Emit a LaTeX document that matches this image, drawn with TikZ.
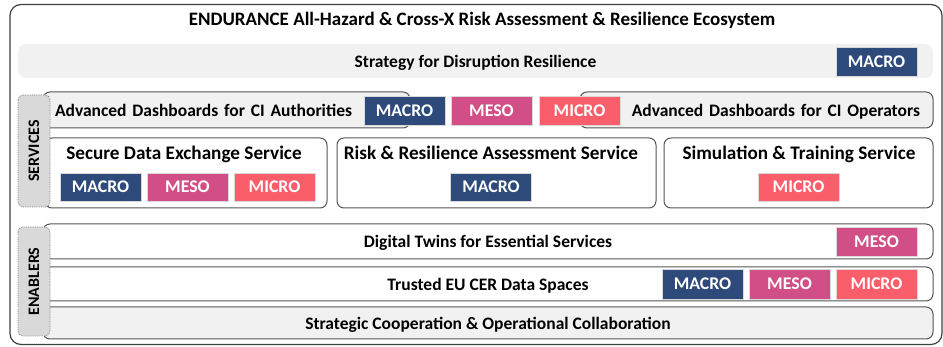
\documentclass[tikz,border=0pt]{standalone}
\usepackage{fontspec}
\setmainfont{Carlito}
\usetikzlibrary{positioning,calc}
\definecolor{mac}{HTML}{2E4A7B}
\definecolor{mes}{HTML}{D14F86}
\definecolor{mic}{HTML}{FA5E6B}
\definecolor{pale}{HTML}{F1F1F1}
\definecolor{tabc}{HTML}{D9D9D9}
\definecolor{edge}{HTML}{555555}
\tikzset{x=1pt,y=-1pt,
 every node/.style={font=\bfseries\fontsize{17.5}{20}\selectfont,inner sep=0pt,text depth=0pt},
 tag/.style={draw=white!70!gray,line width=.4pt,text=white,minimum width=81,minimum height=29,font=\bfseries\fontsize{17.8}{20}\selectfont},
 macro/.style={tag,fill=mac},meso/.style={tag,fill=mes},micro/.style={tag,fill=mic},
 box/.style={draw=edge,line width=1pt,rounded corners=7pt,fill=white},
 band/.style={box,fill=pale},
 svc/.style={font=\bfseries\fontsize{19.2}{22}\selectfont},
 sidetab/.style={draw=gray,densely dotted,line width=.8pt,fill=tabc,rounded corners=5pt,
   rotate=90,minimum height=32,font=\bfseries\fontsize{16}{18}\selectfont}}
\begin{document}
\begin{tikzpicture}
\useasboundingbox (0,0) rectangle (943,347);
\node[draw=black!75,line width=1.2pt,rounded corners=11pt,minimum width=932,minimum height=340] (eco) at (476,174.5) {};
\node[font=\bfseries\fontsize{19}{22}\selectfont] (ttl) at (482,19) {ENDURANCE All-Hazard \& Cross-X Risk Assessment \& Resilience Ecosystem};
% strategy band
\node[fill=pale,rounded corners=8pt,minimum width=915,minimum height=34] (strat) at (475.5,61) {Strategy for Disruption Resilience};
\node[macro] (stratma) at (876.5,61.5) {MACRO};
% services
\node[band,minimum width=367,minimum height=36,text width=343,align=left] (auth) at (226.5,110) {Advanced Dashboards for CI Authorities};
\node[band,minimum width=353,minimum height=36,text width=327,align=right] (oper) at (756.5,110) {Advanced Dashboards for CI Operators};
\node[macro] (dashma) at (404.5,110.5) {MACRO};
\node[meso] (dashme) at (491.5,110.5) {MESO};
\node[micro] (dashmi) at (579.5,110.5) {MICRO};
\node[box,minimum width=282,minimum height=70] (sdx) at (186,173) {};
\node[box,minimum width=319,minimum height=70] (risk) at (496.5,173) {};
\node[box,minimum width=269,minimum height=70] (sim) at (798.5,173) {};
\node[svc] (sdxt) at (184,153) {Secure Data Exchange Service};
\node[svc] (riskt) at (491,153) {Risk \& Resilience Assessment Service};
\node[svc] (simt) at (799,153) {Simulation \& Training Service};
\node[macro,minimum height=28] (sdxma) at (100.5,187) {MACRO};
\node[meso,minimum height=28] (sdxme) at (187.5,187) {MESO};
\node[micro,minimum height=28] (sdxmi) at (274.5,187) {MICRO};
\node[macro,minimum height=28] (riskma) at (491,187) {MACRO};
\node[micro,minimum height=28] (simmi) at (798.5,187) {MICRO};
\node[sidetab,minimum width=112] (srv) at (34,151) {SERVICES};
% enablers
\node[box,minimum width=890,minimum height=35] (twin) at (488,241.5) {Digital Twins for Essential Services};
\node[box,minimum width=890,minimum height=34] (data) at (488,284) {Trusted EU CER Data Spaces};
\node[band,minimum width=890,minimum height=32] (coop) at (488,323) {Strategic Cooperation \& Operational Collaboration};
\node[meso] (twinme) at (876.5,241.5) {MESO};
\node[macro,minimum height=30] (datama) at (702.5,284) {MACRO};
\node[meso,minimum height=30] (datame) at (789.5,284) {MESO};
\node[micro,minimum height=30] (datami) at (876.5,284) {MICRO};
\node[sidetab,minimum width=109] (enb) at (34,281.5) {ENABLERS};
\end{tikzpicture}
\end{document}
